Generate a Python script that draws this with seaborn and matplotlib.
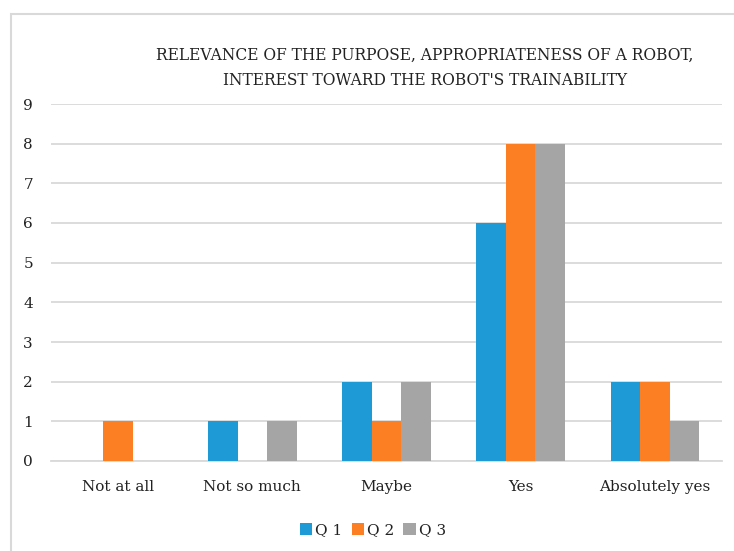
import matplotlib
matplotlib.use("Agg")
import matplotlib.pyplot as plt
import seaborn as sns
import pandas as pd
from matplotlib.patches import Rectangle

categories = ["Not at all", "Not so much", "Maybe", "Yes", "Absolutely yes"]
q1 = [0, 1, 2, 6, 2]
q2 = [1, 0, 1, 8, 2]
q3 = [0, 1, 2, 8, 1]
series_names = ["Q 1", "Q 2", "Q 3"]
colors = ["#1E9AD6", "#FD7F24", "#A5A5A5"]
title = "RELEVANCE OF THE PURPOSE, APPROPRIATENESS OF A ROBOT,\nINTEREST TOWARD THE ROBOT'S TRAINABILITY"

rows = []
for name, vals in zip(series_names, [q1, q2, q3]):
    for c, v in zip(categories, vals):
        rows.append({"category": c, "series": name, "value": v})
df = pd.DataFrame(rows)

sns.set_theme(style="white")
plt.rcParams['font.family'] = ['DejaVu Serif']

fig = plt.figure(figsize=(7.34, 5.51), dpi=100)
ax = fig.add_axes([51/734, 1-461/551, (722-51)/734, (461-104)/551])

sns.barplot(data=df, x="category", y="value", hue="series", order=categories,
            hue_order=series_names, palette=colors, width=0.66, ax=ax,
            saturation=1, legend=True, linewidth=0, zorder=3)

ax.set_ylim(0, 9)
ax.set_xlim(-0.5, 4.5)
ax.set_yticks(range(0, 10))
ax.yaxis.grid(True, color="#D9D9D9", linewidth=1.3, zorder=0)
ax.set_axisbelow(True)
for s in ["top", "right", "left"]:
    ax.spines[s].set_visible(False)
ax.spines["bottom"].set_color("#D9D9D9")
ax.spines["bottom"].set_linewidth(1.3)
ax.tick_params(axis="both", length=0, labelsize=11, colors="#222222")
ax.tick_params(axis="y", pad=13)
ax.tick_params(axis="x", pad=14)
ax.set_xlabel("")
ax.set_ylabel("")

fig.text(425/734, 1-68/551, title, ha="center", va="center", fontsize=11.2,
         color="#222222", linespacing=1.6)

leg = ax.legend(loc="center", bbox_to_anchor=(373/734, 1-530/551),
                bbox_transform=fig.transFigure, ncol=3, frameon=False,
                fontsize=11, handlelength=0.8, handleheight=0.8,
                handletextpad=0.2, columnspacing=0.6)
for t in leg.get_texts():
    t.set_color("#222222")

fig.patches.append(Rectangle((11/734, -0.1), 1.0, 1-14/551+0.1,
                             transform=fig.transFigure, fill=False,
                             edgecolor="#D9D9D9", linewidth=1.5))

fig.savefig("out.png", dpi=100)
